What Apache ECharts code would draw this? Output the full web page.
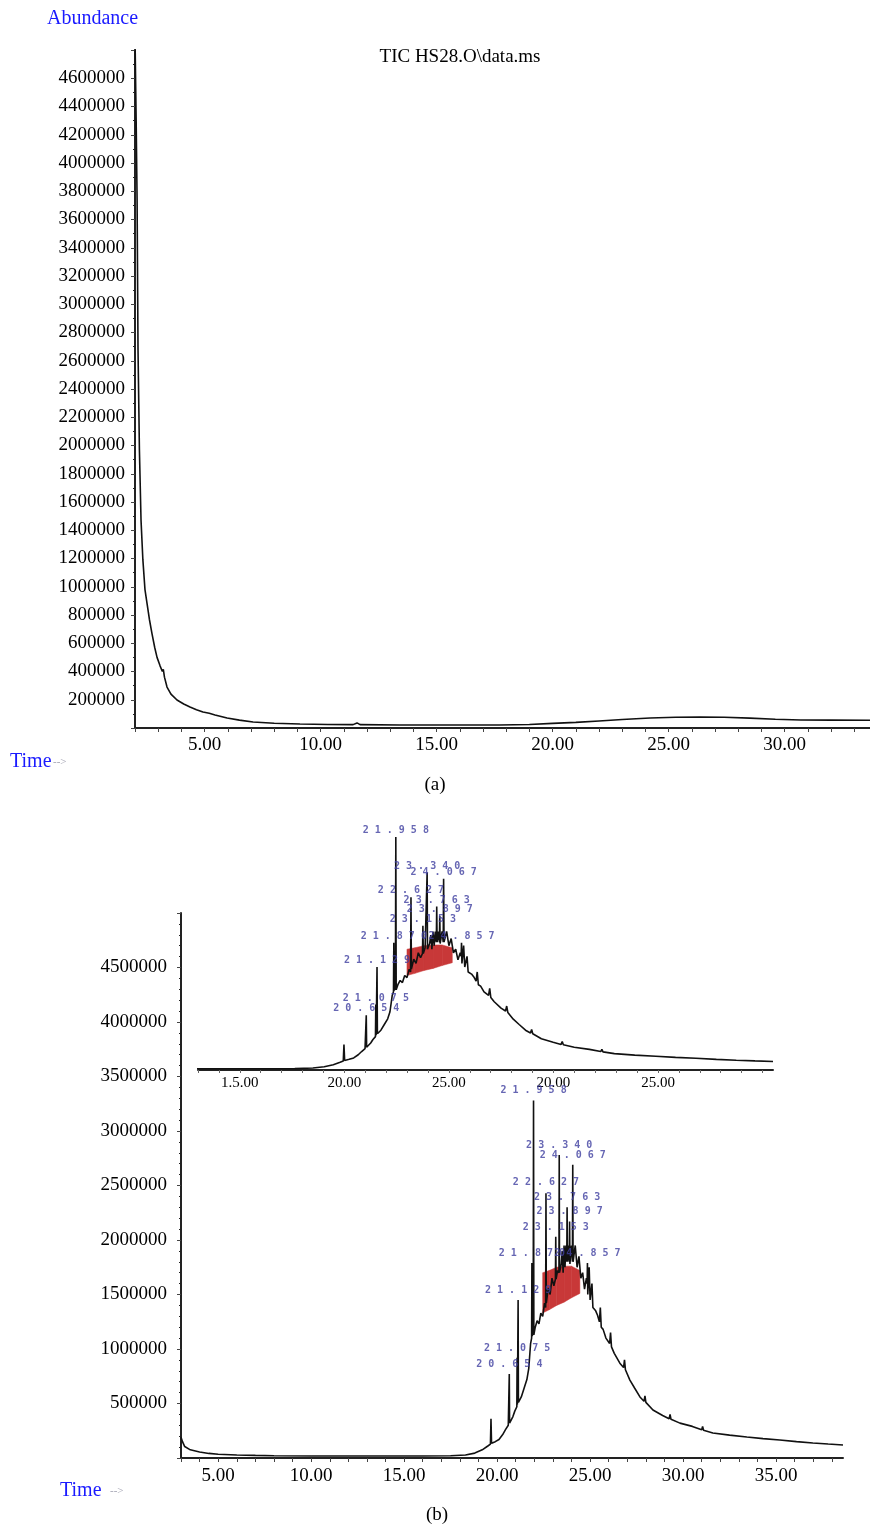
<!DOCTYPE html>
<html>
<head>
<meta charset="utf-8">
<script src="https://cdn.jsdelivr.net/npm/echarts@6/dist/echarts.min.js"></script>
<style>
html, body { margin: 0; padding: 0; background: #fff; }
#chart { width: 870px; height: 1527px; }
</style>
</head>
<body>
<div id="chart"></div>
<script>
// (a) TIC HS28.O  [time min, abundance]
var ticA = [
  [2.00, 4900000], [2.05, 4300000], [2.09, 3740000], [2.13, 2680000], [2.19, 1970000],
  [2.26, 1470000], [2.34, 1190000], [2.43, 980000], [2.52, 880000], [2.62, 770000],
  [2.73, 670000], [2.85, 570000], [2.95, 500000], [3.08, 440000], [3.18, 400000],
  [3.22, 415000], [3.27, 360000], [3.38, 290000], [3.55, 240000], [3.81, 198000],
  [4.10, 170000], [4.37, 149000], [4.65, 130000], [4.93, 113000], [5.20, 104000],
  [5.45, 92000], [5.97, 71000], [6.50, 56000], [7.09, 42000], [8.00, 34000],
  [9.11, 28000], [10.3, 25000], [11.4, 24000], [11.57, 36000], [11.7, 24000],
  [13.4, 21000], [15.5, 21000], [17.7, 21000], [19.0, 25000], [20.0, 33000],
  [21.0, 40000], [22.0, 50000], [23.0, 60000], [24.2, 71000], [25.3, 76000],
  [26.35, 78000], [27.4, 76000], [28.5, 70000], [29.6, 62000], [30.7, 57000],
  [32.0, 56000], [33.7, 55000]
];

// (b) chromatogram with peaks  [time min, abundance]
var ticB = [
  [3.00, 190000], [3.08, 150000], [3.2, 105000], [3.5, 75000], [4.0, 55000], [4.5, 42000],
  [5.0, 35000], [6.0, 28000], [7.0, 24000], [8.0, 21000], [10.0, 19000], [12.0, 18000],
  [14.0, 18000], [16.0, 18000], [17.5, 20000], [18.3, 28000], [18.8, 45000], [19.2, 75000],
  [19.5, 110000], [19.64, 128000], [19.67, 360000], [19.70, 135000], [19.9, 150000],
  [20.1, 170000], [20.3, 215000], [20.45, 260000], [20.6, 300000], [20.64, 310000],
  [20.654, 770000], [20.67, 320000], [20.85, 380000], [20.95, 430000], [21.06, 470000],
  [21.075, 920000], [21.09, 490000], [21.115, 500000], [21.129, 1450000], [21.145, 510000],
  [21.3, 560000], [21.45, 640000], [21.6, 720000], [21.7, 820000], [21.8, 1050000],
  [21.855, 1100000], [21.87, 1790000], [21.885, 1120000], [21.94, 1150000], [21.958, 3280000],
  [21.975, 1130000], [22.05, 1200000], [22.15, 1260000], [22.25, 1230000], [22.35, 1330000],
  [22.45, 1300000], [22.55, 1420000], [22.61, 1380000], [22.627, 2430000], [22.645, 1420000],
  [22.75, 1560000], [22.85, 1500000], [22.95, 1650000], [23.05, 1580000], [23.135, 1640000],
  [23.153, 2030000], [23.17, 1640000], [23.25, 1720000], [23.325, 1700000], [23.34, 2780000],
  [23.355, 1700000], [23.45, 1780000], [23.5, 1900000], [23.55, 1700000], [23.6, 1950000],
  [23.65, 1750000], [23.7, 1950000], [23.745, 1800000], [23.763, 2300000], [23.78, 1800000],
  [23.84, 1950000], [23.88, 1800000], [23.897, 2170000], [23.915, 1780000], [24.0, 1950000],
  [24.05, 1800000], [24.067, 2690000], [24.085, 1800000], [24.2, 1950000], [24.3, 1750000],
  [24.4, 1850000], [24.5, 1650000], [24.6, 1700000], [24.7, 1550000], [24.8, 1650000],
  [24.84, 1600000], [24.857, 1790000], [24.875, 1500000], [24.95, 1750000], [25.0, 1450000],
  [25.1, 1600000], [25.15, 1380000], [25.3, 1350000], [25.4, 1310000], [25.5, 1250000],
  [25.55, 1380000], [25.6, 1200000], [25.7, 1180000], [25.85, 1100000], [26.05, 1050000],
  [26.1, 1150000], [26.15, 1020000], [26.3, 960000], [26.6, 870000], [26.8, 830000],
  [26.85, 900000], [26.9, 810000], [27.14, 715000], [27.4, 640000], [27.68, 560000],
  [27.9, 520000], [27.95, 570000], [28.0, 510000], [28.38, 440000], [28.9, 390000],
  [29.25, 360000], [29.3, 400000], [29.35, 355000], [29.83, 320000], [30.5, 290000],
  [31.0, 260000], [31.05, 290000], [31.1, 255000], [31.6, 230000], [32.5, 210000],
  [33.43, 193000], [34.3, 178000], [35.2, 165000], [36.1, 150000], [36.98, 138000],
  [37.8, 128000], [38.6, 119000]
];

// integrated (red) region under the hump
var redTimes = [22.45, 22.8, 23.2, 23.6, 24.0, 24.45];
var redBase = [1330000, 1360000, 1400000, 1430000, 1470000, 1510000];
var redTop = [1700000, 1720000, 1750000, 1760000, 1760000, 1720000];

// peak annotations
var peakLabels = ['20.654', '21.075', '21.129', '21.870', '21.958', '22.627',
                  '23.153', '23.340', '23.763', '23.897', '24.067', '24.857'];
var peakTimes = [20.654, 21.075, 21.129, 21.870, 21.958, 22.627,
                 23.153, 23.340, 23.763, 23.897, 24.067, 24.857];
var labelLevels = [860000, 1010000, 1540000, 1880000, 3376000, 2530000,
                   2120000, 2870000, 2390000, 2260000, 2780000, 1880000];

// inset axis tick texts (as printed)
var insetTickValues = [15, 20, 25, 30, 35];
var insetTickTexts = ['1.5.00', '20.00', '25.00', '20.00', '25.00'];

var serif = 'Liberation Serif';
var blue = '#1a1aff';
var peakColor = '#4040a0';

function fiveMin(v) {
  return Math.abs(v - Math.round(v / 5) * 5) < 1e-6 ? v.toFixed(2) : '';
}
function hideEnds(max) {
  return function (v) { return (v <= 0 || v >= max) ? '' : String(v); };
}

var peakPts = peakTimes.map(function (t, i) {
  return { value: [t, labelLevels[i]], name: peakLabels[i].split('').join(' ') };
});

function curve(data, xi, yi) {
  return {
    type: 'line', xAxisIndex: xi, yAxisIndex: yi, data: data, symbol: 'none',
    lineStyle: { color: '#111', width: 1.6 }, z: 3, silent: true
  };
}
function redArea(xi, yi) {
  return {
    type: 'custom', xAxisIndex: xi, yAxisIndex: yi, z: 2, silent: true,
    data: redTimes.map(function (t, i) { return [t, redBase[i], redTop[i]]; }),
    encode: { x: 0, y: [1, 2] },
    renderItem: function (params, api) {
      var i = params.dataIndex;
      if (i >= redTimes.length - 1) return { type: 'group', children: [] };
      var pts = [
        api.coord([redTimes[i], redBase[i]]), api.coord([redTimes[i + 1], redBase[i + 1]]),
        api.coord([redTimes[i + 1], redTop[i + 1]]), api.coord([redTimes[i], redTop[i]])
      ];
      return { type: 'polygon', shape: { points: pts },
               style: { fill: '#c83838', stroke: '#c83838', lineWidth: 0.5 } };
    }
  };
}
function peaks(xi, yi) {
  return {
    type: 'scatter', xAxisIndex: xi, yAxisIndex: yi, data: peakPts, symbolSize: 1,
    itemStyle: { color: 'rgba(0,0,0,0)' }, z: 5,
    label: { show: true, position: 'inside', formatter: '{b}', color: peakColor,
             fontFamily: 'DejaVu Sans Mono', fontSize: 10, fontWeight: 'bold' }
  };
}

var axisLine = { lineStyle: { color: '#222', width: 2 } };
var tick = { length: 4, lineStyle: { color: '#444' } };

var chart = echarts.init(document.getElementById('chart'));
chart.setOption({
  animation: false,
  textStyle: { fontFamily: serif },
  grid: [
    { left: 135, top: 50, width: 735, height: 678 },
    { left: 181, top: 913, width: 662, height: 545 },
    { left: 198, top: 800, width: 575, height: 270 }
  ],
  xAxis: [
    { gridIndex: 0, type: 'value', position: 'bottom', min: 2, max: 33.68, interval: 1,
      axisLine: axisLine, axisTick: tick, splitLine: { show: false },
      axisLabel: { formatter: fiveMin, color: '#000', fontSize: 19, margin: 8, showMaxLabel: false } },
    { gridIndex: 1, type: 'value', position: 'bottom', min: 3, max: 38.6, interval: 1,
      axisLine: axisLine, axisTick: tick, splitLine: { show: false },
      axisLabel: { formatter: fiveMin, color: '#000', fontSize: 19, margin: 9, showMaxLabel: false } },
    { gridIndex: 2, type: 'value', position: 'bottom', min: 13.23, max: 38.6, show: false },
    { gridIndex: 2, type: 'value', position: 'bottom', min: 13, max: 40.5, interval: 1,
      axisLine: axisLine, axisTick: { length: 3, lineStyle: { color: '#666' } },
      splitLine: { show: false },
      axisLabel: { color: '#000', fontSize: 15, margin: 6, showMaxLabel: false,
        formatter: function (v) {
          var k = insetTickValues.indexOf(Math.round(v));
          return (k >= 0 && Math.abs(v - Math.round(v)) < 1e-6) ? insetTickTexts[k] : '';
        } } }
  ],
  yAxis: [
    { gridIndex: 0, type: 'value', min: 0, max: 4800000, interval: 200000, axisLine: axisLine,
      axisTick: tick, minorTick: { show: true, splitNumber: 2, length: 2 }, splitLine: { show: false },
      axisLabel: { formatter: hideEnds(4800000), color: '#000', fontSize: 19, margin: 10 } },
    { gridIndex: 1, type: 'value', min: 0, max: 5000000, interval: 500000, axisLine: axisLine,
      axisTick: tick, minorTick: { show: true, splitNumber: 5, length: 2 }, splitLine: { show: false },
      axisLabel: { formatter: hideEnds(5000000), color: '#000', fontSize: 19, margin: 14 } },
    { gridIndex: 2, type: 'value', min: 0, max: 3800000, show: false }
  ],
  series: [
    curve(ticA, 0, 0),
    redArea(1, 1), curve(ticB, 1, 1), peaks(1, 1),
    redArea(2, 2), curve(ticB, 2, 2), peaks(2, 2)
  ],
  graphic: [
    { type: 'text', left: 47, top: 9, style: { text: 'Abundance', fill: blue, font: '20px ' + serif } },
    { type: 'text', x: 460, y: 57, style: { text: 'TIC HS28.O\\data.ms', fill: '#000', font: '19px ' + serif,
        textAlign: 'center', textVerticalAlign: 'middle' } },
    { type: 'text', left: 10, top: 752, style: { text: 'Time', fill: blue, font: '20px ' + serif } },
    { type: 'text', left: 53, top: 757, style: { text: '-->', fill: '#a0a0b0', font: '11px ' + serif } },
    { type: 'text', x: 435, y: 785, style: { text: '(a)', fill: '#000', font: '19px ' + serif,
        textAlign: 'center', textVerticalAlign: 'middle' } },
    { type: 'text', left: 60, top: 1481, style: { text: 'Time', fill: blue, font: '20px ' + serif } },
    { type: 'text', left: 110, top: 1486, style: { text: '-->', fill: '#a0a0b0', font: '11px ' + serif } },
    { type: 'text', x: 437, y: 1515, style: { text: '(b)', fill: '#000', font: '19px ' + serif,
        textAlign: 'center', textVerticalAlign: 'middle' } }
  ]
});
</script>
</body>
</html>
